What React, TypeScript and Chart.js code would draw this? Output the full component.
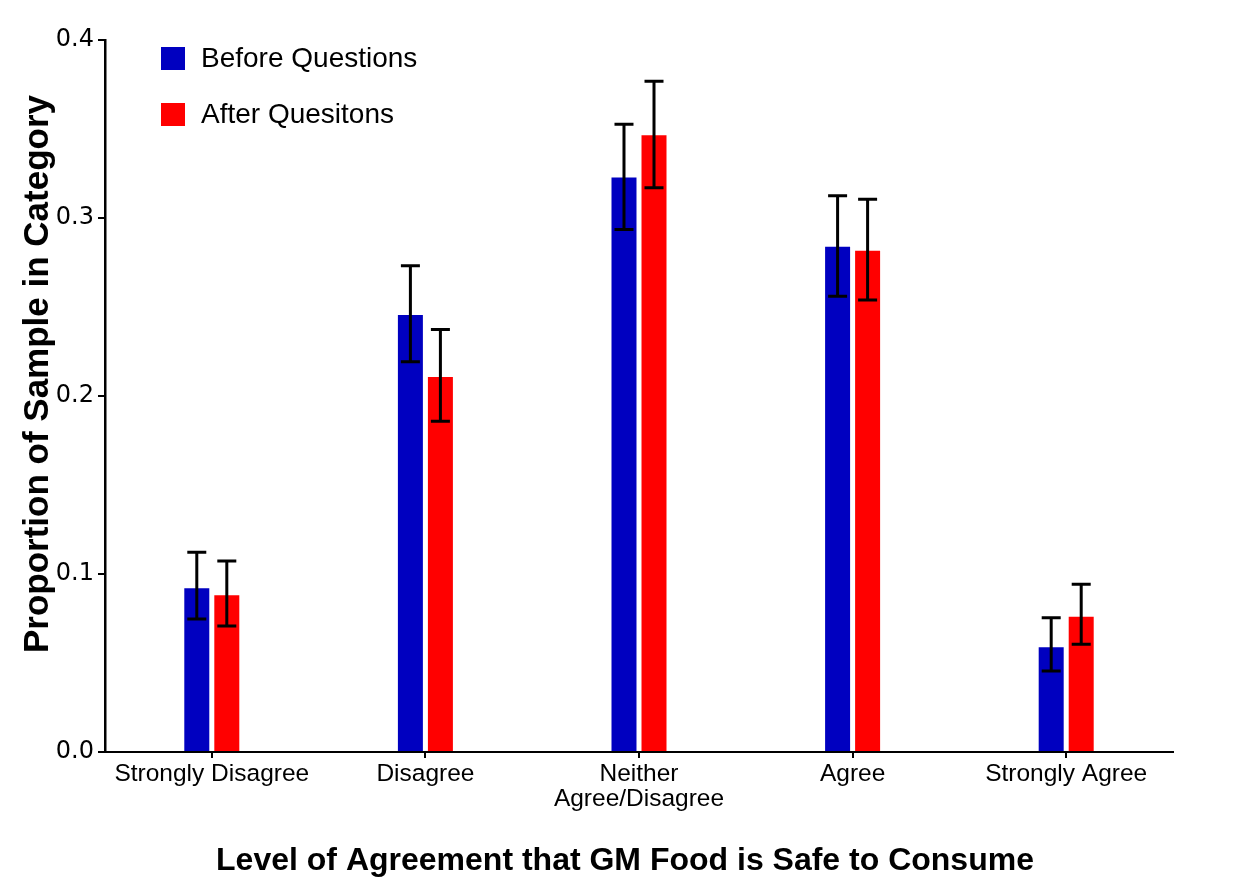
import React, { useEffect, useRef } from "react";
import { Chart, registerables } from "chart.js";

Chart.register(...registerables);

const categories: (string | string[])[] = [
  "Strongly Disagree",
  "Disagree",
  ["Neither", "Agree/Disagree"],
  "Agree",
  "Strongly Agree",
];
const seriesNames = ["Before Questions", "After Quesitons"];
const beforeValues = [0.092, 0.2455, 0.3228, 0.2839, 0.0588];
const beforeLow = [0.0747, 0.2193, 0.2936, 0.256, 0.0455];
const beforeHigh = [0.1122, 0.2732, 0.3526, 0.3125, 0.0754];
const afterValues = [0.088, 0.2107, 0.3465, 0.2816, 0.076];
const afterLow = [0.0708, 0.1858, 0.317, 0.254, 0.0605];
const afterHigh = [0.1073, 0.2373, 0.3768, 0.3105, 0.0942];
const yTicks = [0, 0.1, 0.2, 0.3, 0.4];
const xTitle = "Level of Agreement that GM Food is Safe to Consume";
const yTitle = "Proportion of Sample in Category";

const BLUE = "#0000C0";
const RED = "#FF0000";
const FONT = "'Liberation Sans', Arial, sans-serif";
const TICK_FONT = "'DejaVu Sans', sans-serif";

const errorBars = {
  id: "errorBars",
  afterDatasetsDraw(chart: any) {
    const ctx = chart.ctx;
    const y = chart.scales.y;
    const lows = [beforeLow, afterLow];
    const highs = [beforeHigh, afterHigh];
    ctx.save();
    ctx.strokeStyle = "#000";
    ctx.lineWidth = 3;
    ctx.lineCap = "butt";
    for (let d = 0; d < 2; d++) {
      const meta = chart.getDatasetMeta(d);
      meta.data.forEach((bar: any, i: number) => {
        const x = bar.x;
        const yl = y.getPixelForValue(lows[d][i]);
        const yh = y.getPixelForValue(highs[d][i]);
        const cw = 9.5;
        ctx.beginPath();
        ctx.moveTo(x, yl);
        ctx.lineTo(x, yh);
        ctx.moveTo(x - cw, yl);
        ctx.lineTo(x + cw, yl);
        ctx.moveTo(x - cw, yh);
        ctx.lineTo(x + cw, yh);
        ctx.stroke();
      });
    }
    ctx.restore();
  },
};

const annotations = {
  id: "annotations",
  afterDraw(chart: any) {
    const ctx = chart.ctx;
    ctx.save();
    // legend
    const colors = [BLUE, RED];
    ctx.font = `28px ${FONT}`;
    ctx.textBaseline = "middle";
    ctx.textAlign = "left";
    seriesNames.forEach((name, i) => {
      const top = 47 + i * 56;
      ctx.fillStyle = colors[i];
      ctx.fillRect(161, top, 24, 23);
      ctx.fillStyle = "#000";
      ctx.fillText(name, 201, top + 12);
    });
    // x title
    ctx.font = `bold 32px ${FONT}`;
    ctx.textAlign = "center";
    ctx.textBaseline = "alphabetic";
    ctx.fillText(xTitle, 625, 870);
    // y title
    ctx.translate(48, 374);
    ctx.rotate(-Math.PI / 2);
    ctx.font = `bold 35px ${FONT}`;
    ctx.textBaseline = "alphabetic";
    ctx.fillText(yTitle, 0, 0);
    ctx.restore();
  },
};

export default function App() {
  const ref = useRef<HTMLCanvasElement>(null);
  useEffect(() => {
    if (!ref.current) return;
    const chart = new Chart(ref.current, {
      type: "bar",
      data: {
        labels: categories,
        datasets: [
          {
            label: seriesNames[0],
            data: beforeValues,
            backgroundColor: BLUE,
            categoryPercentage: 0.281,
            barPercentage: 0.833,
          },
          {
            label: seriesNames[1],
            data: afterValues,
            backgroundColor: RED,
            categoryPercentage: 0.281,
            barPercentage: 0.833,
          },
        ],
      },
      options: {
        responsive: false,
        animation: false,
        layout: { padding: { top: 40, right: 71, left: 0, bottom: 0 } },
        plugins: {
          legend: { display: false },
          tooltip: { enabled: false },
        },
        scales: {
          x: {
            grid: {
              display: true,
              offset: false,
              drawOnChartArea: false,
              drawTicks: true,
              tickLength: 6,
              color: "#000",
              lineWidth: 2,
            },
            border: { display: true, color: "#000", width: 2 },
            ticks: {
              color: "#000",
              font: { family: FONT, size: 24.5, lineHeight: 1.05 },
              maxRotation: 0,
              autoSkip: false,
              padding: 3,
            },
            afterFit(scale: any) {
              scale.height = 142;
            },
          },
          y: {
            min: 0,
            max: 0.4,
            afterBuildTicks(scale: any) {
              scale.ticks = yTicks.map((v) => ({ value: v }));
            },
            grid: {
              display: true,
              drawOnChartArea: false,
              drawTicks: true,
              tickLength: 7,
              color: "#000",
              lineWidth: 2,
            },
            border: { display: true, color: "#000", width: 2.5 },
            ticks: {
              color: "#000",
              font: { family: TICK_FONT, size: 24 },
              padding: 4,
              callback: (v: any) => Number(v).toFixed(1),
            },
            afterFit(scale: any) {
              scale.width = 105;
            },
          },
        },
      },
      plugins: [errorBars, annotations],
    });
    return () => chart.destroy();
  }, []);
  return (
    <div style={{ position: "fixed", left: 0, top: 0, width: 1244, height: 894, background: "#fff" }}>
      <canvas ref={ref} width={1244} height={894} />
    </div>
  );
}
